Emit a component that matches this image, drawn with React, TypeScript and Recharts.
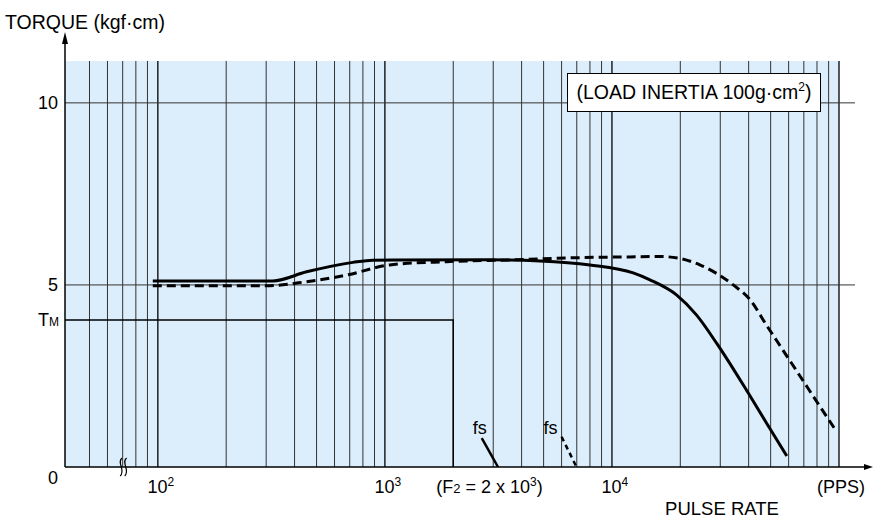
import React from 'react';
import { LineChart, Line, XAxis, YAxis, CartesianGrid, ReferenceLine } from 'recharts';

// pulse rate (PPS) / torque (kgf·cm)
const PULSE_SOLID = [95, 200, 321, 452, 723, 885, 2900, 4820, 8000, 12400, 14700, 19300, 23600, 28900, 37900, 48000, 58900];
const TORQUE_SOLID = [5.11, 5.11, 5.11, 5.36, 5.62, 5.68, 5.69, 5.66, 5.55, 5.33, 5.14, 4.72, 4.17, 3.4, 2.25, 1.2, 0.3];

const PULSE_DASHED = [95, 200, 311, 452, 678, 1050, 1870, 3660, 7230, 12000, 16300, 19500, 24400, 34200, 40600, 48000, 56900, 67300, 79700, 96000];
const TORQUE_DASHED = [4.98, 4.98, 4.98, 5.09, 5.27, 5.55, 5.64, 5.69, 5.75, 5.77, 5.78, 5.74, 5.55, 5.0, 4.59, 3.89, 3.19, 2.5, 1.8, 1.04];

const PULSE_FS_SOLID = [2670, 3150];
const TORQUE_FS_SOLID = [0.79, 0];
const PULSE_FS_DASHED = [6000, 6980];
const TORQUE_FS_DASHED = [0.83, 0];

const TM = 4.04;
const F2 = 2000;
const PULSE_TM = [39, F2, F2];
const TORQUE_TM = [TM, TM, 0];

const X_MIN = 39;
const X_MAX = 100000;
const Y_MAX = 11.15;

const MAJOR_GRID = [100, 1000, 10000, 100000];
const MINOR_GRID = [50, 60, 70, 80, 90, 200, 300, 400, 500, 600, 700, 800, 900,
  2000, 3000, 4000, 5000, 6000, 7000, 8000, 9000, 20000, 30000, 40000, 50000, 60000, 70000, 80000, 90000];
const H_GRID = [5, 10];
const BREAK_AT = 70;

const X_TICKS = [100, 1000, F2, 10000, 100000];
const Y_TICKS = [0, TM, 5, 10];

const FONT = '"Liberation Sans", Arial, Helvetica, sans-serif';

const zip = (xs: number[], ys: number[]) => xs.map((x, i) => ({ x, y: ys[i] }));

const solidData = zip(PULSE_SOLID, TORQUE_SOLID);
const dashedData = zip(PULSE_DASHED, TORQUE_DASHED);
const fsSolidData = zip(PULSE_FS_SOLID, TORQUE_FS_SOLID);
const fsDashedData = zip(PULSE_FS_DASHED, TORQUE_FS_DASHED);
const tmData = zip(PULSE_TM, TORQUE_TM);

const XTick = (props: any) => {
  const { x, y, payload } = props;
  const v = payload.value;
  const base = y + 18;
  if (v === F2) {
    return (
      <text x={x - 17} y={base} fontSize={18} fontFamily={FONT} fill="#000" textAnchor="start">
        <tspan>(F</tspan>
        <tspan fontSize={13}>2</tspan>
        <tspan> = 2 x 10</tspan>
        <tspan dy={-7} fontSize={12}>3</tspan>
        <tspan dy={7}>)</tspan>
      </text>
    );
  }
  if (v === X_MAX) {
    return (
      <text x={x + 2} y={base} fontSize={18} fontFamily={FONT} fill="#000" textAnchor="middle">(PPS)</text>
    );
  }
  const exp = Math.round(Math.log10(v));
  return (
    <text x={x + 3} y={base} fontSize={18} fontFamily={FONT} fill="#000" textAnchor="middle">
      <tspan>10</tspan>
      <tspan dy={-7} fontSize={12}>{exp}</tspan>
    </text>
  );
};

const YTick = (props: any) => {
  const { x, y, payload } = props;
  const v = payload.value;
  if (v === TM) {
    return (
      <text x={x + 2} y={y} dy="0.35em" fontSize={18} fontFamily={FONT} fill="#000" textAnchor="end">
        <tspan>T</tspan>
        <tspan fontSize={12}>M</tspan>
      </text>
    );
  }
  return (
    <text x={x + 1} y={v === 0 ? y + 11 : y} dy="0.35em" fontSize={18} fontFamily={FONT} fill="#000" textAnchor="end">
      {v}
    </text>
  );
};

const vGrid = (color: string, w: number) => (p: any) => (
  <line x1={p.x1} y1={p.y1} x2={p.x2} y2={p.y2} stroke={color} strokeWidth={w} />
);

const hGrid = (p: any) => {
  const l = Math.min(p.x1, p.x2);
  const r = Math.max(p.x1, p.x2);
  return <line x1={l} y1={p.y1} x2={r + 16} y2={p.y2} stroke="#333" strokeWidth={1} />;
};

const xAxisShape = (p: any) => {
  const l = Math.min(p.x1, p.x2);
  const r = Math.max(p.x1, p.x2);
  const y = p.y1;
  return (
    <g>
      <line x1={l} y1={y} x2={r + 28} y2={y} stroke="#000" strokeWidth={1.5} />
      <polygon points={`${r + 34},${y} ${r + 25},${y - 3} ${r + 25},${y + 3}`} fill="#000" />
    </g>
  );
};

const yAxisShape = (p: any) => {
  const top = Math.min(p.y1, p.y2);
  const bottom = Math.max(p.y1, p.y2);
  const x = p.x1;
  return (
    <g>
      <line x1={x} y1={bottom} x2={x} y2={top - 22} stroke="#000" strokeWidth={1.5} />
      <polygon points={`${x},${top - 29} ${x - 3},${top - 17} ${x + 3},${top - 17}`} fill="#000" />
    </g>
  );
};

const breakShape = (p: any) => {
  const x = p.x1 + 1;
  const b = Math.max(p.y1, p.y2);
  const s = (dx: number) => {
    const x0 = x + dx;
    return `M ${x0 + 1} ${b - 9} C ${x0 - 5} ${b - 5}, ${x0 + 5} ${b + 4}, ${x0 - 1} ${b + 9}`;
  };
  return (
    <g>
      <path d={s(-2.5)} stroke="#000" strokeWidth={1.2} fill="none" />
      <path d={s(2)} stroke="#000" strokeWidth={1.2} fill="none" />
    </g>
  );
};

const fsLabel = (dx: number, dy: number) => (p: any) =>
  p.index === 0 ? (
    <text x={p.x + dx} y={p.y + dy} fontSize={18} fontFamily={FONT} fill="#000" textAnchor="middle">fs</text>
  ) : (
    <g />
  );

export default function App() {
  return (
    <div style={{ position: 'absolute', left: 0, top: 0, width: 873, height: 519, background: '#fff', fontFamily: FONT }}>
      <LineChart width={873} height={519} margin={{ top: 61, right: 34, bottom: 12, left: 0 }}>
        <CartesianGrid horizontal={false} vertical={false} fill="#dcedfb" fillOpacity={1} />
        <XAxis
          dataKey="x"
          type="number"
          scale="log"
          domain={[X_MIN, X_MAX]}
          allowDataOverflow
          ticks={X_TICKS}
          interval={0}
          axisLine={false}
          tickLine={false}
          height={40}
          tick={<XTick />}
        />
        <YAxis
          type="number"
          domain={[0, Y_MAX]}
          allowDataOverflow
          ticks={Y_TICKS}
          interval={0}
          axisLine={false}
          tickLine={false}
          width={65}
          tick={<YTick />}
        />
        {MINOR_GRID.map((v) => (
          <ReferenceLine key={`mn-${v}`} x={v} shape={vGrid('#333', 1)} />
        ))}
        {MAJOR_GRID.map((v) => (
          <ReferenceLine key={`mj-${v}`} x={v} shape={vGrid('#000', 1.3)} />
        ))}
        {H_GRID.map((v) => (
          <ReferenceLine key={`h-${v}`} y={v} shape={hGrid} />
        ))}
        <ReferenceLine y={0} shape={xAxisShape} />
        <ReferenceLine x={X_MIN} shape={yAxisShape} />
        <ReferenceLine x={BREAK_AT} shape={breakShape} />
        <Line data={tmData} dataKey="y" type="linear" stroke="#000" strokeWidth={1.5} dot={false} activeDot={false} isAnimationActive={false} />
        <Line data={solidData} dataKey="y" type="monotone" stroke="#000" strokeWidth={3} dot={false} activeDot={false} isAnimationActive={false} />
        <Line data={dashedData} dataKey="y" type="monotone" stroke="#000" strokeWidth={3} strokeDasharray="9 5" dot={false} activeDot={false} isAnimationActive={false} />
        <Line data={fsSolidData} dataKey="y" type="linear" stroke="#000" strokeWidth={2.5} dot={false} activeDot={false} isAnimationActive={false} label={fsLabel(-2, -4)} />
        <Line data={fsDashedData} dataKey="y" type="linear" stroke="#000" strokeWidth={2.5} strokeDasharray="5 4" dot={false} activeDot={false} isAnimationActive={false} label={fsLabel(-11, -3)} />
      </LineChart>
      <div style={{ position: 'absolute', left: 5, top: 11, fontSize: 19.5, lineHeight: '22px', color: '#000', whiteSpace: 'nowrap' }}>
        TORQUE (kgf·cm)
      </div>
      <div style={{ position: 'absolute', left: 622, top: 500, width: 200, textAlign: 'center', fontSize: 18.5, lineHeight: '18px', color: '#000' }}>
        PULSE RATE
      </div>
      <div
        style={{
          position: 'absolute', left: 567, top: 73, width: 254, height: 39, boxSizing: 'border-box',
          border: '1px solid #000', background: '#fff', display: 'flex', alignItems: 'center', justifyContent: 'center',
          fontSize: 19.5, color: '#000', whiteSpace: 'nowrap',
        }}
      >
        <span>(LOAD INERTIA 100g·cm<sup style={{ fontSize: 12, verticalAlign: 'top', lineHeight: '12px' }}>2</sup>)</span>
      </div>
    </div>
  );
}
